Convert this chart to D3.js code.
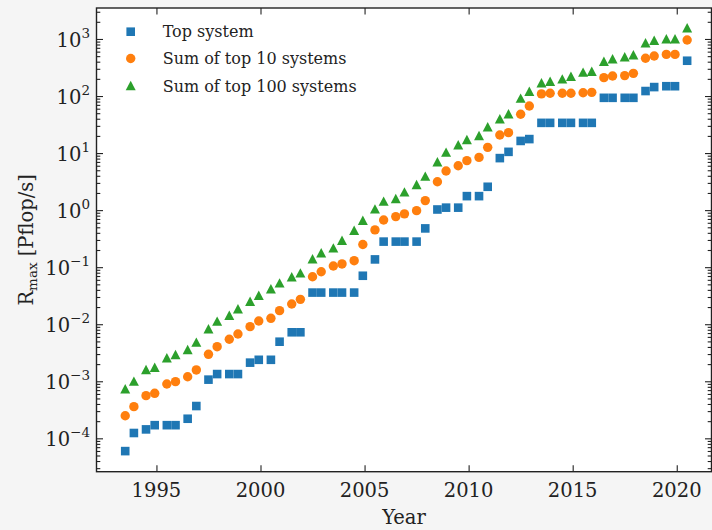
<!DOCTYPE html>
<html>
<head>
<meta charset="utf-8">
<script src="https://cdn.jsdelivr.net/npm/d3@7"></script>
<style>
  html, body { margin: 0; padding: 0; background: #f5f5f5; }
  svg { display: block; font-family: "DejaVu Serif", serif; }
</style>
</head>
<body>
<svg id="chart" width="712" height="530"></svg>
<script>
// TOP500 list editions (year-month)
const editions = [
  "1993-06","1993-11","1994-06","1994-11","1995-06","1995-11","1996-06","1996-11",
  "1997-06","1997-11","1998-06","1998-11","1999-06","1999-11","2000-06","2000-11",
  "2001-06","2001-11","2002-06","2002-11","2003-06","2003-11","2004-06","2004-11",
  "2005-06","2005-11","2006-06","2006-11","2007-06","2007-11","2008-06","2008-11",
  "2009-06","2009-11","2010-06","2010-11","2011-06","2011-11","2012-06","2012-11",
  "2013-06","2013-11","2014-06","2014-11","2015-06","2015-11","2016-06","2016-11",
  "2017-06","2017-11","2018-06","2018-11","2019-06","2019-11","2020-06"
];

// Rmax in Pflop/s
const topSystem = [
  5.97e-5, 1.24e-4, 1.434e-4, 1.70e-4, 1.70e-4, 1.70e-4, 2.204e-4, 3.682e-4,
  1.068e-3, 1.338e-3, 1.338e-3, 1.338e-3, 2.121e-3, 2.379e-3, 2.379e-3, 4.938e-3,
  7.226e-3, 7.226e-3, 0.03586, 0.03586, 0.03586, 0.03586, 0.03586, 0.07072,
  0.1368, 0.2806, 0.2806, 0.2806, 0.2806, 0.4782, 1.026, 1.105,
  1.105, 1.759, 1.759, 2.566, 8.162, 10.51, 16.32, 17.59,
  33.86, 33.86, 33.86, 33.86, 33.86, 33.86, 93.01, 93.01,
  93.01, 93.01, 122.3, 143.5, 148.6, 148.6, 415.5
];

const top10Sum = [
  2.49e-4, 3.59e-4, 5.6e-4, 6.15e-4, 8.97e-4, 9.85e-4, 1.2e-3, 1.58e-3,
  2.97e-3, 4.04e-3, 5.45e-3, 6.75e-3, 9.06e-3, 1.14e-2, 1.27e-2, 1.73e-2,
  2.26e-2, 2.73e-2, 0.068, 0.083, 0.105, 0.114, 0.13, 0.25,
  0.45, 0.67, 0.77, 0.86, 0.98, 1.47, 3.15, 4.86,
  6.0, 7.36, 8.4, 12.6, 20.7, 22.8, 47.9, 67,
  109, 112, 112, 112, 114, 116, 210, 224,
  228, 250, 459, 504, 537, 537, 960
];

const top100Sum = [
  7.24e-4, 9.85e-4, 1.58e-3, 1.73e-3, 2.53e-3, 2.89e-3, 3.54e-3, 4.75e-3,
  8.15e-3, 1.11e-2, 1.41e-2, 1.83e-2, 2.48e-2, 3.16e-2, 4.1e-2, 5.2e-2,
  6.65e-2, 7.8e-2, 0.138, 0.175, 0.214, 0.29, 0.436, 0.65,
  1.03, 1.41, 1.57, 2.05, 2.76, 3.86, 6.9, 10.2,
  13.7, 17.0, 19.9, 28.3, 39.1, 47.9, 90, 119,
  167, 178, 196, 218, 257, 267, 400, 440,
  477, 518, 840, 933, 989, 989, 1540
];

const seriesNames = ["Top system", "Sum of top 10 systems", "Sum of top 100 systems"];
const seriesColors = ["#1f77b4", "#ff7f0e", "#2ca02c"];
const xTickValues = [1995, 2000, 2005, 2010, 2015, 2020];
const yTickExponents = [-4, -3, -2, -1, 0, 1, 2, 3];

const svg = d3.select("#chart");
const plot = { left: 96.5, right: 711.5, top: 8, bottom: 471.7 };

const toYear = s => { const [y, m] = s.split("-").map(Number); return y + m / 12; };
const xs = editions.map(toYear);

const x = d3.scaleLinear().domain([1992.12, 2021.67]).range([plot.left, plot.right]);
const y = d3.scaleLog().domain([Math.pow(10, -4.585), Math.pow(10, 3.543)]).range([plot.bottom, plot.top]);

// plotting area
svg.append("rect")
  .attr("x", plot.left).attr("y", plot.top)
  .attr("width", plot.right - plot.left).attr("height", plot.bottom - plot.top)
  .attr("fill", "#ffffff");

// marker shapes
const markerPaths = {
  square: () => { const h = 4.3; return `M${-h},${-h}H${h}V${h}H${-h}Z`; },
  circle: () => { const r = 4.7; return `M${r},0A${r},${r} 0 1,1 ${-r},0A${r},${r} 0 1,1 ${r},0Z`; },
  triangle: () => `M0,-5.2L5,4.2L-5,4.2Z`
};
const markerKinds = ["square", "circle", "triangle"];
const seriesValues = [topSystem, top10Sum, top100Sum];

const marks = svg.append("g");
seriesValues.forEach((vals, i) => {
  marks.append("g").selectAll("path")
    .data(vals.map((v, j) => [xs[j], v]))
    .join("path")
    .attr("transform", d => `translate(${x(d[0])},${y(d[1])})`)
    .attr("d", markerPaths[markerKinds[i]]())
    .attr("fill", seriesColors[i]);
});

// axes: ticks point inward on all four sides
const axisColor = "#222";
const majorLen = 6.5, minorLen = 3.8;
const [yLo, yHi] = y.domain();
const minorVals = [];
for (let e = -5; e <= 3; e++) {
  for (let k = 2; k <= 9; k++) {
    const v = k * Math.pow(10, e);
    if (v > yLo && v < yHi) minorVals.push(v);
  }
}
const majorVals = yTickExponents.map(e => Math.pow(10, e));

const axes = svg.append("g");
const addAxis = (axisFn, scale, values, len, tx, ty) => {
  axes.append("g")
    .attr("transform", `translate(${tx},${ty})`)
    .call(axisFn(scale).tickValues(values).tickSize(-len).tickFormat(""))
    .call(g => g.select(".domain").remove());
};
addAxis(d3.axisLeft, y, minorVals, minorLen, plot.left, 0);
addAxis(d3.axisLeft, y, majorVals, majorLen, plot.left, 0);
addAxis(d3.axisRight, y, minorVals, minorLen, plot.right, 0);
addAxis(d3.axisRight, y, majorVals, majorLen, plot.right, 0);
addAxis(d3.axisBottom, x, xTickValues, majorLen, 0, plot.bottom);
addAxis(d3.axisTop, x, xTickValues, majorLen, 0, plot.top);
axes.selectAll(".tick line").attr("stroke", axisColor).attr("stroke-width", 1.1);

// frame
svg.append("rect")
  .attr("x", plot.left).attr("y", plot.top)
  .attr("width", plot.right - plot.left).attr("height", plot.bottom - plot.top)
  .attr("fill", "none").attr("stroke", axisColor).attr("stroke-width", 1.4);

// x tick labels
svg.append("g").selectAll("text")
  .data(xTickValues).join("text")
  .attr("x", d => x(d)).attr("y", 497)
  .attr("text-anchor", "middle")
  .attr("font-size", 19.5).attr("fill", "#222")
  .text(d => d);

// y tick labels as powers of ten
const yLabels = svg.append("g").selectAll("text")
  .data(yTickExponents).join("text")
  .attr("x", 90).attr("y", d => y(Math.pow(10, d)) + 8)
  .attr("text-anchor", "end")
  .attr("font-size", 19.5).attr("fill", "#222");
yLabels.append("tspan").text("10");
yLabels.append("tspan")
  .attr("dy", -9).attr("font-size", 13.5)
  .text(d => d < 0 ? "\u2212" + Math.abs(d) : String(d));

// axis titles
svg.append("text")
  .attr("x", (plot.left + plot.right) / 2).attr("y", 524)
  .attr("text-anchor", "middle").attr("font-size", 19.5).attr("fill", "#222")
  .text("Year");

const yTitle = svg.append("text")
  .attr("transform", `translate(33,${(plot.top + plot.bottom) / 2}) rotate(-90)`)
  .attr("text-anchor", "middle").attr("font-size", 19.5).attr("fill", "#222");
yTitle.append("tspan").text("R");
yTitle.append("tspan").attr("dy", 4).attr("font-size", 13.5).text("max");
yTitle.append("tspan").attr("dy", -4).text(" [Pflop/s]");

// legend
const legend = svg.append("g");
const legendY = [31.7, 58.5, 86];
seriesNames.forEach((name, i) => {
  legend.append("path")
    .attr("transform", `translate(130.7,${legendY[i]})`)
    .attr("d", markerPaths[markerKinds[i]]())
    .attr("fill", seriesColors[i]);
  legend.append("text")
    .attr("x", 162.7).attr("y", legendY[i] + 5.6)
    .attr("font-size", 16).attr("fill", "#222")
    .text(name);
});
</script>
</body>
</html>
